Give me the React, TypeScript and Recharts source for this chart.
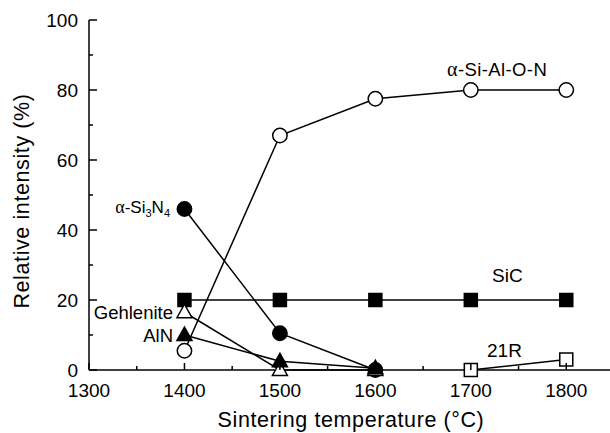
import React from "react";
import { LineChart, Line, XAxis, YAxis } from "recharts";

const temps = [1400, 1500, 1600, 1700, 1800];
const sialon = [5.5, 67, 77.5, 80, 80];
const si3n4 = [46, 10.5, 0, null, null];
const sic = [20, 20, 20, 20, 20];
const gehlenite = [16.5, 0, 0, null, null];
const aln = [10, 2.5, 0.5, null, null];
const r21 = [null, null, null, 0, 3];

const xTicks = [1300, 1350, 1400, 1450, 1500, 1550, 1600, 1650, 1700, 1750, 1800, 1850];
const yTicks = [0, 10, 20, 30, 40, 50, 60, 70, 80, 90, 100];

const rows = temps.map((t, i) => ({
  t,
  sialon: sialon[i],
  si3n4: si3n4[i],
  sic: sic[i],
  gehlenite: gehlenite[i],
  aln: aln[i],
  r21: r21[i],
}));

const SANS = "'Liberation Sans', Arial, Helvetica, sans-serif";
const SERIF = "'Liberation Serif', 'Times New Roman', serif";
const INK = "#000";

const circle = (fill: string) => (p: any) => {
  if (p.cy == null || p.value == null) return <g key={p.key ?? p.index} />;
  return <circle key={p.key ?? p.index} cx={p.cx} cy={p.cy} r={7.2} fill={fill} stroke={INK} strokeWidth={1.5} />;
};
const square = (fill: string) => (p: any) => {
  if (p.cy == null || p.value == null) return <g key={p.key ?? p.index} />;
  return <rect key={p.key ?? p.index} x={p.cx - 6.5} y={p.cy - 6.5} width={13} height={13} fill={fill} stroke={INK} strokeWidth={1.5} />;
};
const triangle = (fill: string) => (p: any) => {
  if (p.cy == null || p.value == null) return <g key={p.key ?? p.index} />;
  const { cx, cy } = p;
  return (
    <polygon
      key={p.key ?? p.index}
      points={`${cx},${cy - 8} ${cx - 7.5},${cy + 5.5} ${cx + 7.5},${cy + 5.5}`}
      fill={fill}
      stroke={INK}
      strokeWidth={1.5}
    />
  );
};

// all ticks point into the plot; majors labelled on bottom/left only
const BottomTick = ({ x, y, payload }: any) => {
  const major = payload.value % 100 === 0;
  return (
    <g>
      <line x1={x} x2={x} y1={y} y2={y - (major ? 7 : 4)} stroke={INK} strokeWidth={1.5} />
      {major && payload.value <= 1800 && (
        <text x={x} y={y + 27} textAnchor="middle" fontSize={19} fontFamily={SANS} fill={INK}>
          {payload.value}
        </text>
      )}
    </g>
  );
};
const TopTick = ({ x, y, payload }: any) => {
  const major = payload.value % 100 === 0;
  return <line x1={x} x2={x} y1={y} y2={y + (major ? 7 : 4)} stroke={INK} strokeWidth={1.5} />;
};
const LeftTick = ({ x, y, payload }: any) => {
  const major = payload.value % 20 === 0;
  return (
    <g>
      <line x1={x} x2={x + (major ? 8 : 4)} y1={y} y2={y} stroke={INK} strokeWidth={1.5} />
      {major && (
        <text x={x - 11} y={y + 7} textAnchor="end" fontSize={19} fontFamily={SANS} fill={INK}>
          {payload.value}
        </text>
      )}
    </g>
  );
};
const RightTick = ({ x, y, payload }: any) => {
  const major = payload.value % 20 === 0;
  return <line x1={x} x2={x - (major ? 8 : 4)} y1={y} y2={y} stroke={INK} strokeWidth={1.5} />;
};

const axisLine = { stroke: INK, strokeWidth: 1.5 };

export default function App() {
  const series: [string, (p: any) => any][] = [
    ["sic", square(INK)],
    ["si3n4", circle(INK)],
    ["gehlenite", triangle("#fff")],
    ["aln", triangle(INK)],
    ["r21", square("#fff")],
    ["sialon", circle("#fff")],
  ];
  return (
    <div style={{ position: "absolute", left: 0, top: 0, width: 610, height: 433, overflow: "hidden", background: "#fff" }}>
      <LineChart width={625} height={433} data={rows} margin={{ top: 20, right: 11, left: 0, bottom: 0 }}>
        <XAxis
          dataKey="t"
          type="number"
          domain={[1300, 1850]}
          ticks={xTicks}
          interval={0}
          tickSize={0}
          tickMargin={0}
          tickLine={false}
          axisLine={axisLine}
          tick={<BottomTick />}
          height={63}
          allowDataOverflow
        />
        <XAxis
          xAxisId="top"
          orientation="top"
          dataKey="t"
          type="number"
          domain={[1300, 1850]}
          ticks={xTicks}
          interval={0}
          tickSize={0}
          tickMargin={0}
          tickLine={false}
          axisLine={axisLine}
          tick={<TopTick />}
          height={0}
          allowDataOverflow
        />
        <YAxis
          type="number"
          domain={[0, 100]}
          ticks={yTicks}
          interval={0}
          tickSize={0}
          tickMargin={0}
          tickLine={false}
          axisLine={axisLine}
          tick={<LeftTick />}
          width={89}
        />
        <YAxis
          yAxisId="right"
          orientation="right"
          type="number"
          domain={[0, 100]}
          ticks={yTicks}
          interval={0}
          tickSize={0}
          tickMargin={0}
          tickLine={false}
          axisLine={axisLine}
          tick={<RightTick />}
          width={0}
        />
        {series.map(([key, dot]) => (
          <Line
            key={key}
            dataKey={key}
            type="linear"
            stroke={INK}
            strokeWidth={1.5}
            dot={dot}
            activeDot={false}
            connectNulls={false}
            isAnimationActive={false}
          />
        ))}
      </LineChart>
      <svg width={610} height={433} style={{ position: "absolute", left: 0, top: 0, pointerEvents: "none" }}>
        <g fontFamily={SANS} fontSize={18.5} fill={INK}>
          <text x={447} y={76} letterSpacing={0.4}>
            <tspan fontFamily={SERIF} fontSize={20}>α</tspan>-Si-Al-O-N
          </text>
          <text x={492} y={282} fontSize={19}>SiC</text>
          <text x={487} y={357} fontSize={19}>21R</text>
          <text x={173} y={319} textAnchor="end">Gehlenite</text>
          <text x={173} y={342} textAnchor="end">AlN</text>
          <text x={170} y={213} textAnchor="end" fontSize={17}>
            <tspan fontFamily={SERIF} fontSize={18}>α</tspan>-Si
            <tspan fontSize={11} dy={4}>3</tspan>
            <tspan dy={-4}>N</tspan>
            <tspan fontSize={11} dy={4}>4</tspan>
          </text>
        </g>
        <text x={351} y={427} textAnchor="middle" fontFamily={SANS} fontSize={21.5} fill={INK} letterSpacing={0.6}>
          Sintering temperature (°C)
        </text>
        <text
          transform="translate(29,201) rotate(-90)"
          textAnchor="middle"
          fontFamily={SANS}
          fontSize={21.5}
          fill={INK}
          letterSpacing={0.6}
        >
          Relative intensity (%)
        </text>
      </svg>
    </div>
  );
}
